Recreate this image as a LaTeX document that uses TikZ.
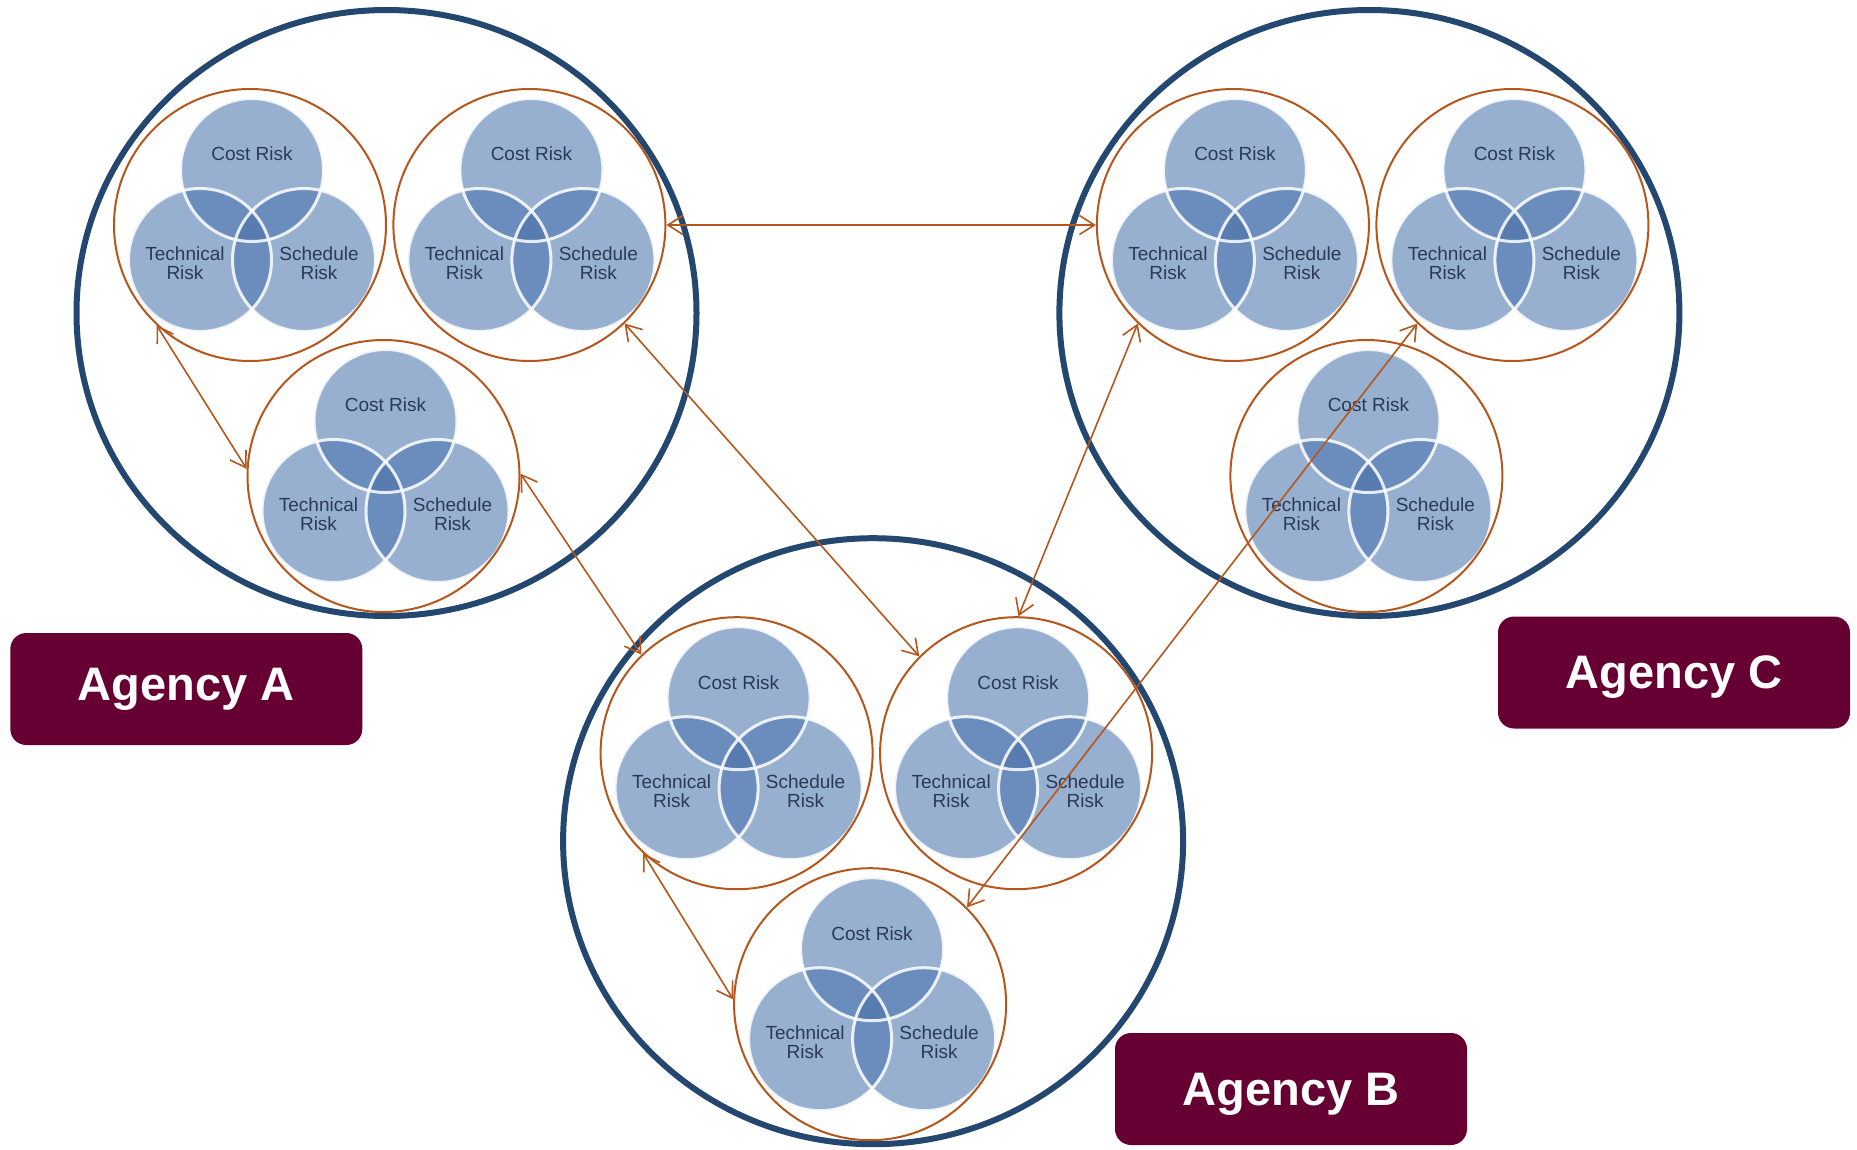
\documentclass[tikz,border=0pt]{standalone}
\usepackage{fontspec}
\setmainfont{Liberation Sans}
\usetikzlibrary{arrows.meta,shapes.geometric}

\definecolor{navy}{HTML}{24476F}
\definecolor{rust}{HTML}{B5561C}
\definecolor{maroon}{HTML}{660033}
\definecolor{vbase}{HTML}{98B0CF}
\definecolor{vpair}{HTML}{6A8DBD}
\definecolor{vtriple}{HTML}{587CAF}
\definecolor{vtext}{HTML}{2A3A56}

\tikzset{
  agencyring/.style={draw=navy, line width=6pt, ellipse, minimum width=620pt,
    minimum height=606pt, inner sep=0pt},
  cluster/.style={draw=rust, line width=2pt, circle, minimum size=272pt, inner sep=0pt},
  link/.style={draw=rust, line width=1.6pt,
    {Straight Barb[length=15pt,width=19pt]}-{Straight Barb[length=15pt,width=19pt]}},
  riskname/.style={text=vtext, font=\fontsize{19}{18.5}\selectfont, align=center, inner sep=0pt},
  agencytag/.style={fill=maroon, rounded corners=16pt, minimum width=352pt,
    minimum height=112pt, text=white, font=\bfseries\fontsize{47}{50}\selectfont},
  vring/.style={draw=white, draw opacity=0.85, line width=3pt},
}

% Three-circle risk Venn inside an orange ring; #1 name, #2/#3 centre
\newcommand\riskvenn[3]{%
  \begin{scope}[shift={(#2,#3)}]
    \def\costc{(2,-55) circle (71.5pt)}%
    \def\techc{(-50,35) circle (71.5pt)}%
    \def\schedc{(54,35) circle (71.5pt)}%
    \fill[vbase] \costc;
    \fill[vbase] \techc;
    \fill[vbase] \schedc;
    \begin{scope}\clip \costc; \fill[vpair] \techc; \fill[vpair] \schedc;\end{scope}
    \begin{scope}\clip \techc; \fill[vpair] \schedc;\end{scope}
    \begin{scope}\clip \costc; \clip \techc; \fill[vtriple] \schedc;\end{scope}
    \path[vring] \costc;
    \path[vring] \techc;
    \path[vring] \schedc;
    \node[riskname] (#1-cost) at (2,-71) {Cost Risk};
    \node[riskname] (#1-tech) at (-65,38) {Technical\\Risk};
    \node[riskname] (#1-sched) at (69,38) {Schedule\\Risk};
  \end{scope}
  \node[cluster] (#1) at (#2,#3) {};
}

\begin{document}
\begin{tikzpicture}[x=1pt, y=-1pt]
  \useasboundingbox (0,0) rectangle (1857,1149);

  % agency boundaries
  \node[agencyring] (ringA) at (386.5,313) {};
  \node[agencyring] (ringC) at (1369.4,313) {};
  \node[agencyring] (ringB) at (873.1,841.2) {};

  % risk clusters
  \riskvenn{A1}{250}{225}
  \riskvenn{A2}{529.4}{225}
  \riskvenn{A3}{383.5}{476}
  \riskvenn{C1}{1232.9}{225}
  \riskvenn{C2}{1512.4}{225}
  \riskvenn{C3}{1366.4}{476}
  \riskvenn{B1}{736.6}{753.2}
  \riskvenn{B2}{1016.1}{753.2}
  \riskvenn{B3}{870.1}{1004.2}

  % interactions between clusters
  \draw[link] (A1.227) -- (A3.177);
  \draw[link] (A3.1) -- (B1.134);
  \draw[link] (A2.314) -- (B2.135);
  \draw[link] (A2.0) -- (C1.180);
  \draw[link] (C1.226) -- (B2.89);
  \draw[link] (C2.226) -- (B3.45);
  \draw[link] (B1.227) -- (B3.178);

  % agency tags
  \node[agencytag] (tagA) at (186.3,689) {Agency A};
  \node[agencytag, text depth=0pt] (tagC) at (1674,672.5) {Agency C};
  \node[agencytag, text depth=0pt] (tagB) at (1291,1089) {Agency B};
\end{tikzpicture}
\end{document}
